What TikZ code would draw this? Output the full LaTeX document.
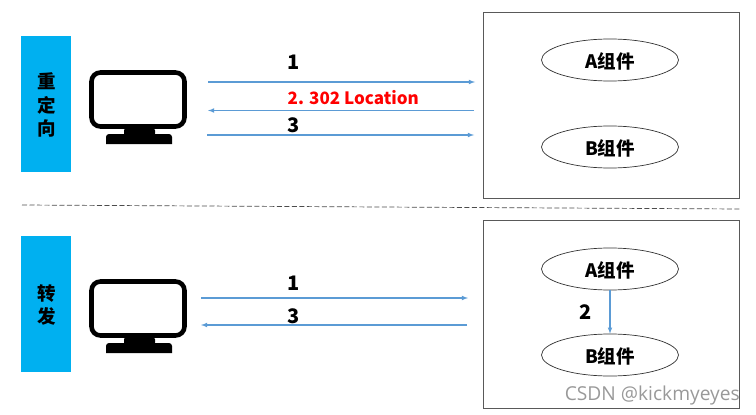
\documentclass[tikz,border=0pt]{standalone}
\usepackage{fontspec}
\usetikzlibrary{shapes.geometric}
\setmainfont{Noto Sans CJK SC}
\newfontfamily\markfont{Open Sans}
\definecolor{bandblue}{HTML}{00B0F0}
\definecolor{linkblue}{HTML}{5B9BD5}
\tikzset{
  band/.style={fill=bandblue,minimum width=50pt,minimum height=136pt,inner sep=0pt},
  bandtext/.style={inner sep=0pt,align=center,font=\fontsize{18.5}{23.5}\selectfont\bfseries},
  comp/.style={ellipse,draw=black!80,fill=white,line width=0.7pt,minimum width=137pt,minimum height=42pt,inner sep=0pt,text height=16pt,text depth=0pt,font=\fontsize{18.5}{20}\selectfont\bfseries},
  server/.style={draw=black!65,line width=0.9pt,minimum width=256pt,inner sep=0pt},
  link/.style={->,linkblue,line width=1.1pt},
  lbl/.style={inner sep=0pt,font=\fontsize{20}{22}\selectfont\bfseries},
  monitor/.pic={
    \draw[black,line width=4.6pt,rounded corners=9pt] (-46.5,-27) rectangle (46.5,27);
    \fill[black,rounded corners=2pt] (-14,29) -- (-14,36) -- (17,36) -- (17,29) -- cycle;
    \fill[black] (-32,44.5) [rounded corners=3pt] -- (-32,34.5) -- (34,34.5) [sharp corners] -- (34,44.5) -- cycle;
  }
}
\begin{document}
\begin{tikzpicture}[x=1pt,y=-1pt,>=latex]
  \useasboundingbox (0,0) rectangle (756,415);
  % top half
  \node[band] (b1) at (46,104) {};
  \node[bandtext] (w1) at (46.5,105) {重\\定\\向};
  \pic at (138,99.5) {monitor};
  \node[server,minimum height=186pt] (s1) at (611,105) {};
  \node[comp] (a1) at (610,60) {A组件};
  \node[comp] (c1) at (610,147) {B组件};
  \coordinate (p1) at (208,82);
  \coordinate (q1) at (475,82);
  \coordinate (p2) at (474,110.5);
  \coordinate (q2) at (208,110.5);
  \coordinate (p3) at (207,135);
  \coordinate (q3) at (474,135);
  \draw[link] (p1) -- (q1);
  \draw[link] (p2) -- (q2);
  \draw[link] (p3) -- (q3);
  \node[lbl] (t1) at (293.5,62.5) {1};
  \node[lbl,text=red,anchor=west,font=\fontsize{17}{20}\selectfont\bfseries] (t2) at (287.5,98) {2. 302 Location};
  \node[lbl] (t3) at (293.5,125) {3};
  % separator
  \coordinate (d1) at (22,205);
  \coordinate (d2) at (740,209);
  \draw[dash pattern=on 5pt off 2.5pt,black!70,line width=0.7pt] (d1) -- (d2);
  % bottom half
  \node[band] (b2) at (46,304) {};
  \node[bandtext] (w2) at (46.5,305) {转\\发};
  \pic at (138,308.5) {monitor};
  \node[server,minimum height=188pt] (s2) at (611,314) {};
  \node[comp] (a2) at (610,269) {A组件};
  \node[comp] (c2) at (610,355) {B组件};
  \coordinate (p4) at (201,298);
  \coordinate (q4) at (468,298);
  \coordinate (p5) at (467,325);
  \coordinate (q5) at (201,325);
  \draw[link] (p4) -- (q4);
  \draw[link] (p5) -- (q5);
  \draw[link] (a2) -- (c2);
  \node[lbl] (t4) at (293.5,283.5) {1};
  \node[lbl] (t5) at (293.5,316) {3};
  \node[lbl] (t6) at (585.5,312) {2};
  \node[anchor=east,inner sep=0pt,text=black!40,font=\markfont\fontsize{19.2}{20}\selectfont] (wm) at (740,396) {CSDN @kickmyeyes};
\end{tikzpicture}
\end{document}
